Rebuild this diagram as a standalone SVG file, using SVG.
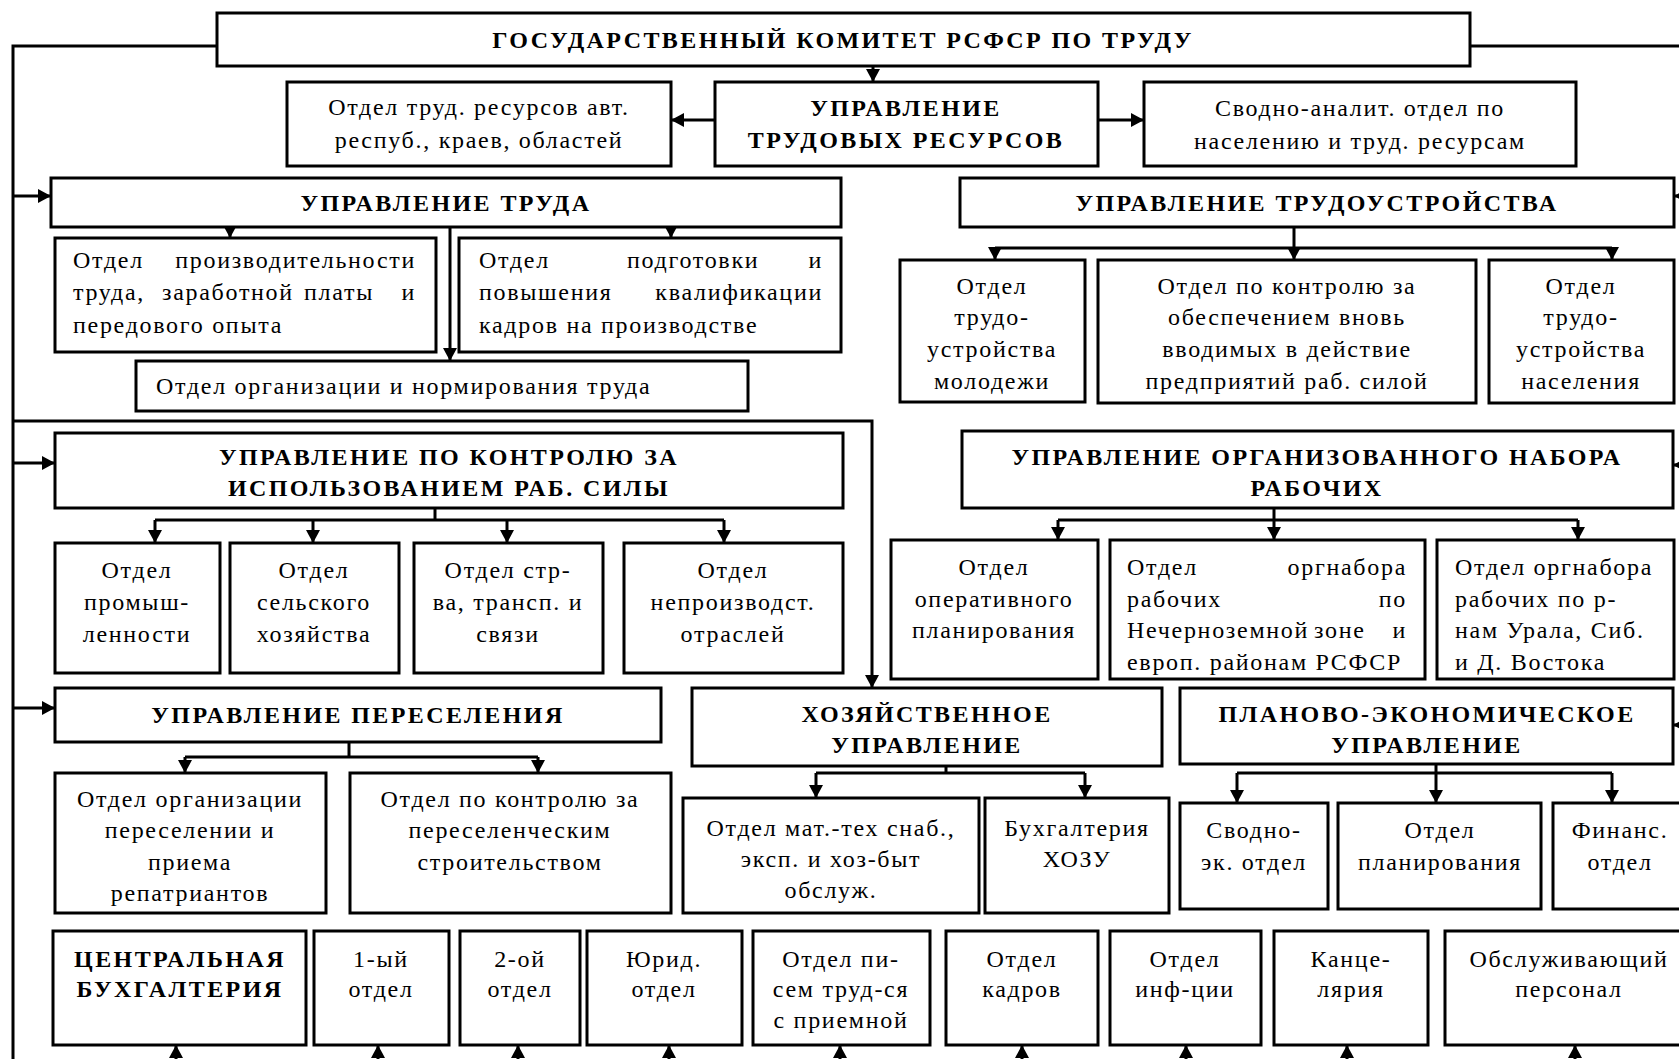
<svg xmlns="http://www.w3.org/2000/svg" width="1679" height="1059" viewBox="0 0 1679 1059">
<style>
.box{fill:#fff;stroke:#000;stroke-width:3}
.t{font-family:"Liberation Serif","Times New Roman",serif;font-size:24px;letter-spacing:1.7px;fill:#000}
.b{font-weight:bold;letter-spacing:2.4px}
.c{text-anchor:middle}
.e{text-anchor:end}
.conn path{fill:none;stroke:#000;stroke-width:3}
</style>
<defs>
<marker id="ah" markerUnits="userSpaceOnUse" markerWidth="14" markerHeight="14" refX="13" refY="7" orient="auto"><path d="M0,0 L13,7 L0,14 z" fill="#000"/></marker>
</defs>
<rect x="0" y="0" width="1679" height="1059" fill="#fff"/>

<g id="connectors" class="conn">
<path d="M217,46 H13 V1059"/>
<path d="M1470,46 H1679"/>
<path d="M873,66 V82" marker-end="url(#ah)"/>
<path d="M715,120 H671" marker-end="url(#ah)"/>
<path d="M1098,120 H1144" marker-end="url(#ah)"/>
<path d="M13,196 H51" marker-end="url(#ah)"/>
<path d="M13,463 H55" marker-end="url(#ah)"/>
<path d="M13,708 H55" marker-end="url(#ah)"/>
<path d="M13,421 H872 V688" marker-end="url(#ah)"/>
<path d="M1692,196 H1674" marker-end="url(#ah)"/>
<path d="M1692,465 H1673" marker-end="url(#ah)"/>
<path d="M1692,725 H1673" marker-end="url(#ah)"/>
<path d="M230,227 V238" marker-end="url(#ah)"/>
<path d="M671,227 V238" marker-end="url(#ah)"/>
<path d="M450,227 V361" marker-end="url(#ah)"/>
<path d="M1294,227 V260" marker-end="url(#ah)"/>
<path d="M995,248 H1612"/>
<path d="M995,248 V260" marker-end="url(#ah)"/>
<path d="M1612,248 V260" marker-end="url(#ah)"/>
<path d="M435,508 V520"/>
<path d="M155,520 H724"/>
<path d="M155,520 V543" marker-end="url(#ah)"/>
<path d="M313,520 V543" marker-end="url(#ah)"/>
<path d="M507,520 V543" marker-end="url(#ah)"/>
<path d="M724,520 V543" marker-end="url(#ah)"/>
<path d="M1274,508 V540" marker-end="url(#ah)"/>
<path d="M1058,520 H1578"/>
<path d="M1058,520 V540" marker-end="url(#ah)"/>
<path d="M1578,520 V540" marker-end="url(#ah)"/>
<path d="M349,742 V757"/>
<path d="M185,757 H538"/>
<path d="M185,757 V773" marker-end="url(#ah)"/>
<path d="M538,757 V773" marker-end="url(#ah)"/>
<path d="M946,766 V773"/>
<path d="M816,773 H1085"/>
<path d="M816,773 V798" marker-end="url(#ah)"/>
<path d="M1085,773 V798" marker-end="url(#ah)"/>
<path d="M1436,764 V803" marker-end="url(#ah)"/>
<path d="M1237,773 H1612"/>
<path d="M1237,773 V803" marker-end="url(#ah)"/>
<path d="M1612,773 V803" marker-end="url(#ah)"/>
<path d="M176,1062 V1045" marker-end="url(#ah)"/>
<path d="M378,1062 V1045" marker-end="url(#ah)"/>
<path d="M518,1062 V1045" marker-end="url(#ah)"/>
<path d="M669,1062 V1045" marker-end="url(#ah)"/>
<path d="M840,1062 V1045" marker-end="url(#ah)"/>
<path d="M1022,1062 V1045" marker-end="url(#ah)"/>
<path d="M1186,1062 V1045" marker-end="url(#ah)"/>
<path d="M1347,1062 V1045" marker-end="url(#ah)"/>
<path d="M1575,1062 V1045" marker-end="url(#ah)"/>
</g>

<g id="n_goskom"><rect class="box" x="217" y="13" width="1253" height="53"/>
<text class="t b c" x="843" y="48">ГОСУДАРСТВЕННЫЙ КОМИТЕТ РСФСР ПО ТРУДУ</text></g>

<g id="n_otd_trud_res"><rect class="box" x="287" y="82" width="384" height="84"/>
<text class="t c"><tspan x="479" y="115">Отдел труд. ресурсов авт.</tspan><tspan x="479" y="148">респуб., краев, областей</tspan></text></g>

<g id="n_utr"><rect class="box" x="715" y="82" width="383" height="84"/>
<text class="t b c"><tspan x="906" y="116">УПРАВЛЕНИЕ</tspan><tspan x="906" y="148">ТРУДОВЫХ РЕСУРСОВ</tspan></text></g>

<g id="n_svod_anal"><rect class="box" x="1144" y="82" width="432" height="84"/>
<text class="t c"><tspan x="1360" y="116">Сводно-аналит. отдел по</tspan><tspan x="1360" y="149">населению и труд. ресурсам</tspan></text></g>

<g id="n_ut"><rect class="box" x="51" y="178" width="790" height="49"/>
<text class="t b c" x="446" y="211">УПРАВЛЕНИЕ ТРУДА</text></g>

<g id="n_utu"><rect class="box" x="960" y="178" width="714" height="49"/>
<text class="t b c" x="1317" y="211">УПРАВЛЕНИЕ ТРУДОУСТРОЙСТВА</text></g>

<g id="n_otd_proizv"><rect class="box" x="55" y="238" width="381" height="114"/>
<text class="t"><tspan x="73" y="268">Отдел</tspan><tspan x="416" y="268" class="e">производительности</tspan><tspan x="73" y="300">труда,</tspan><tspan x="162" y="300">заработной</tspan><tspan x="304" y="300">платы</tspan><tspan x="416" y="300" class="e">и</tspan><tspan x="73" y="333">передового опыта</tspan></text></g>

<g id="n_otd_podg"><rect class="box" x="459" y="238" width="382" height="114"/>
<text class="t"><tspan x="479" y="268">Отдел</tspan><tspan x="627" y="268">подготовки</tspan><tspan x="823" y="268" class="e">и</tspan><tspan x="479" y="300">повышения</tspan><tspan x="823" y="300" class="e">квалификации</tspan><tspan x="479" y="333">кадров на производстве</tspan></text></g>

<g id="n_otd_org_norm"><rect class="box" x="136" y="361" width="612" height="50"/>
<text class="t" x="156" y="394">Отдел организации и нормирования труда</text></g>

<g id="n_otd_tu_mol"><rect class="box" x="900" y="260" width="185" height="142"/>
<text class="t c"><tspan x="992" y="294">Отдел</tspan><tspan x="992" y="325">трудо-</tspan><tspan x="992" y="357">устройства</tspan><tspan x="992" y="389">молодежи</tspan></text></g>

<g id="n_otd_kontr_vvod"><rect class="box" x="1098" y="260" width="378" height="143"/>
<text class="t c"><tspan x="1287" y="294">Отдел по контролю за</tspan><tspan x="1287" y="325">обеспечением вновь</tspan><tspan x="1287" y="357">вводимых в действие</tspan><tspan x="1287" y="389">предприятий раб. силой</tspan></text></g>

<g id="n_otd_tu_nas"><rect class="box" x="1489" y="260" width="185" height="143"/>
<text class="t c"><tspan x="1581" y="294">Отдел</tspan><tspan x="1581" y="325">трудо-</tspan><tspan x="1581" y="357">устройства</tspan><tspan x="1581" y="389">населения</tspan></text></g>

<g id="n_upkirs"><rect class="box" x="55" y="433" width="788" height="75"/>
<text class="t b c"><tspan x="449" y="465">УПРАВЛЕНИЕ ПО КОНТРОЛЮ ЗА</tspan><tspan x="449" y="496">ИСПОЛЬЗОВАНИЕМ РАБ. СИЛЫ</tspan></text></g>

<g id="n_otd_prom"><rect class="box" x="55" y="543" width="165" height="130"/>
<text class="t c"><tspan x="137" y="578">Отдел</tspan><tspan x="137" y="610">промыш-</tspan><tspan x="137" y="642">ленности</tspan></text></g>

<g id="n_otd_selsk"><rect class="box" x="230" y="543" width="169" height="130"/>
<text class="t c"><tspan x="314" y="578">Отдел</tspan><tspan x="314" y="610">сельского</tspan><tspan x="314" y="642">хозяйства</tspan></text></g>

<g id="n_otd_str"><rect class="box" x="414" y="543" width="189" height="130"/>
<text class="t c"><tspan x="508" y="578">Отдел стр-</tspan><tspan x="508" y="610">ва, трансп. и</tspan><tspan x="508" y="642">связи</tspan></text></g>

<g id="n_otd_neproizv"><rect class="box" x="624" y="543" width="219" height="130"/>
<text class="t c"><tspan x="733" y="578">Отдел</tspan><tspan x="733" y="610">непроизводст.</tspan><tspan x="733" y="642">отраслей</tspan></text></g>

<g id="n_uonr"><rect class="box" x="962" y="431" width="711" height="77"/>
<text class="t b c"><tspan x="1317" y="465">УПРАВЛЕНИЕ ОРГАНИЗОВАННОГО НАБОРА</tspan><tspan x="1317" y="496">РАБОЧИХ</tspan></text></g>

<g id="n_otd_oper"><rect class="box" x="891" y="540" width="207" height="139"/>
<text class="t c"><tspan x="994" y="575">Отдел</tspan><tspan x="994" y="607">оперативного</tspan><tspan x="994" y="638">планирования</tspan></text></g>

<g id="n_otd_nechern"><rect class="box" x="1110" y="540" width="315" height="139"/>
<text class="t"><tspan x="1127" y="575">Отдел</tspan><tspan x="1407" y="575" class="e">оргнабора</tspan><tspan x="1127" y="607">рабочих</tspan><tspan x="1407" y="607" class="e">по</tspan><tspan x="1127" y="638">Нечерноземной</tspan><tspan x="1314" y="638">зоне</tspan><tspan x="1407" y="638" class="e">и</tspan><tspan x="1127" y="670">европ. районам РСФСР</tspan></text></g>

<g id="n_otd_ural"><rect class="box" x="1437" y="540" width="237" height="139"/>
<text class="t"><tspan x="1455" y="575">Отдел оргнабора</tspan><tspan x="1455" y="607">рабочих по р-</tspan><tspan x="1455" y="638">нам Урала, Сиб.</tspan><tspan x="1455" y="670">и Д. Востока</tspan></text></g>

<g id="n_up"><rect class="box" x="55" y="688" width="606" height="54"/>
<text class="t b c" x="358" y="723">УПРАВЛЕНИЕ ПЕРЕСЕЛЕНИЯ</text></g>

<g id="n_otd_org_peres"><rect class="box" x="55" y="773" width="271" height="140"/>
<text class="t c"><tspan x="190" y="807">Отдел организации</tspan><tspan x="190" y="838">переселении и</tspan><tspan x="190" y="870">приема</tspan><tspan x="190" y="901">репатриантов</tspan></text></g>

<g id="n_otd_kontr_peres"><rect class="box" x="350" y="773" width="321" height="140"/>
<text class="t c"><tspan x="510" y="807">Отдел по контролю за</tspan><tspan x="510" y="838">переселенческим</tspan><tspan x="510" y="870">строительством</tspan></text></g>

<g id="n_hu"><rect class="box" x="692" y="688" width="470" height="78"/>
<text class="t b c"><tspan x="927" y="722">ХОЗЯЙСТВЕННОЕ</tspan><tspan x="927" y="753">УПРАВЛЕНИЕ</tspan></text></g>

<g id="n_otd_mat"><rect class="box" x="683" y="798" width="296" height="115"/>
<text class="t c"><tspan x="831" y="836">Отдел мат.-тех снаб.,</tspan><tspan x="831" y="867">эксп. и хоз-быт</tspan><tspan x="831" y="898">обслуж.</tspan></text></g>

<g id="n_buh_hozu"><rect class="box" x="985" y="798" width="184" height="115"/>
<text class="t c"><tspan x="1077" y="836">Бухгалтерия</tspan><tspan x="1077" y="867">ХОЗУ</tspan></text></g>

<g id="n_peu"><rect class="box" x="1180" y="688" width="493" height="76"/>
<text class="t b c"><tspan x="1427" y="722">ПЛАНОВО-ЭКОНОМИЧЕСКОЕ</tspan><tspan x="1427" y="753">УПРАВЛЕНИЕ</tspan></text></g>

<g id="n_svod_ek"><rect class="box" x="1180" y="803" width="148" height="106"/>
<text class="t c"><tspan x="1254" y="838">Сводно-</tspan><tspan x="1254" y="870">эк. отдел</tspan></text></g>

<g id="n_otd_plan"><rect class="box" x="1338" y="803" width="203" height="106"/>
<text class="t c"><tspan x="1440" y="838">Отдел</tspan><tspan x="1440" y="870">планирования</tspan></text></g>

<g id="n_fin"><rect class="box" x="1553" y="803" width="140" height="106"/>
<text class="t c"><tspan x="1620" y="838">Финанс.</tspan><tspan x="1620" y="870">отдел</tspan></text></g>

<g id="n_cb"><rect class="box" x="53" y="931" width="253" height="114"/>
<text class="t b c"><tspan x="180" y="967">ЦЕНТРАЛЬНАЯ</tspan><tspan x="180" y="997">БУХГАЛТЕРИЯ</tspan></text></g>

<g id="n_1"><rect class="box" x="314" y="931" width="135" height="114"/>
<text class="t c"><tspan x="381" y="967">1-ый</tspan><tspan x="381" y="997">отдел</tspan></text></g>

<g id="n_2"><rect class="box" x="460" y="931" width="120" height="114"/>
<text class="t c"><tspan x="520" y="967">2-ой</tspan><tspan x="520" y="997">отдел</tspan></text></g>

<g id="n_jur"><rect class="box" x="587" y="931" width="155" height="114"/>
<text class="t c"><tspan x="664" y="967">Юрид.</tspan><tspan x="664" y="997">отдел</tspan></text></g>

<g id="n_pisem"><rect class="box" x="753" y="931" width="177" height="114"/>
<text class="t c"><tspan x="841" y="967">Отдел пи-</tspan><tspan x="841" y="997">сем труд-ся</tspan><tspan x="841" y="1028">с приемной</tspan></text></g>

<g id="n_kadr"><rect class="box" x="946" y="931" width="152" height="114"/>
<text class="t c"><tspan x="1022" y="967">Отдел</tspan><tspan x="1022" y="997">кадров</tspan></text></g>

<g id="n_inf"><rect class="box" x="1110" y="931" width="151" height="114"/>
<text class="t c"><tspan x="1185" y="967">Отдел</tspan><tspan x="1185" y="997">инф-ции</tspan></text></g>

<g id="n_kanc"><rect class="box" x="1274" y="931" width="154" height="114"/>
<text class="t c"><tspan x="1351" y="967">Канце-</tspan><tspan x="1351" y="997">лярия</tspan></text></g>

<g id="n_obsl"><rect class="box" x="1445" y="931" width="260" height="114"/>
<text class="t c"><tspan x="1569" y="967">Обслуживающий</tspan><tspan x="1569" y="997">персонал</tspan></text></g>
</svg>
